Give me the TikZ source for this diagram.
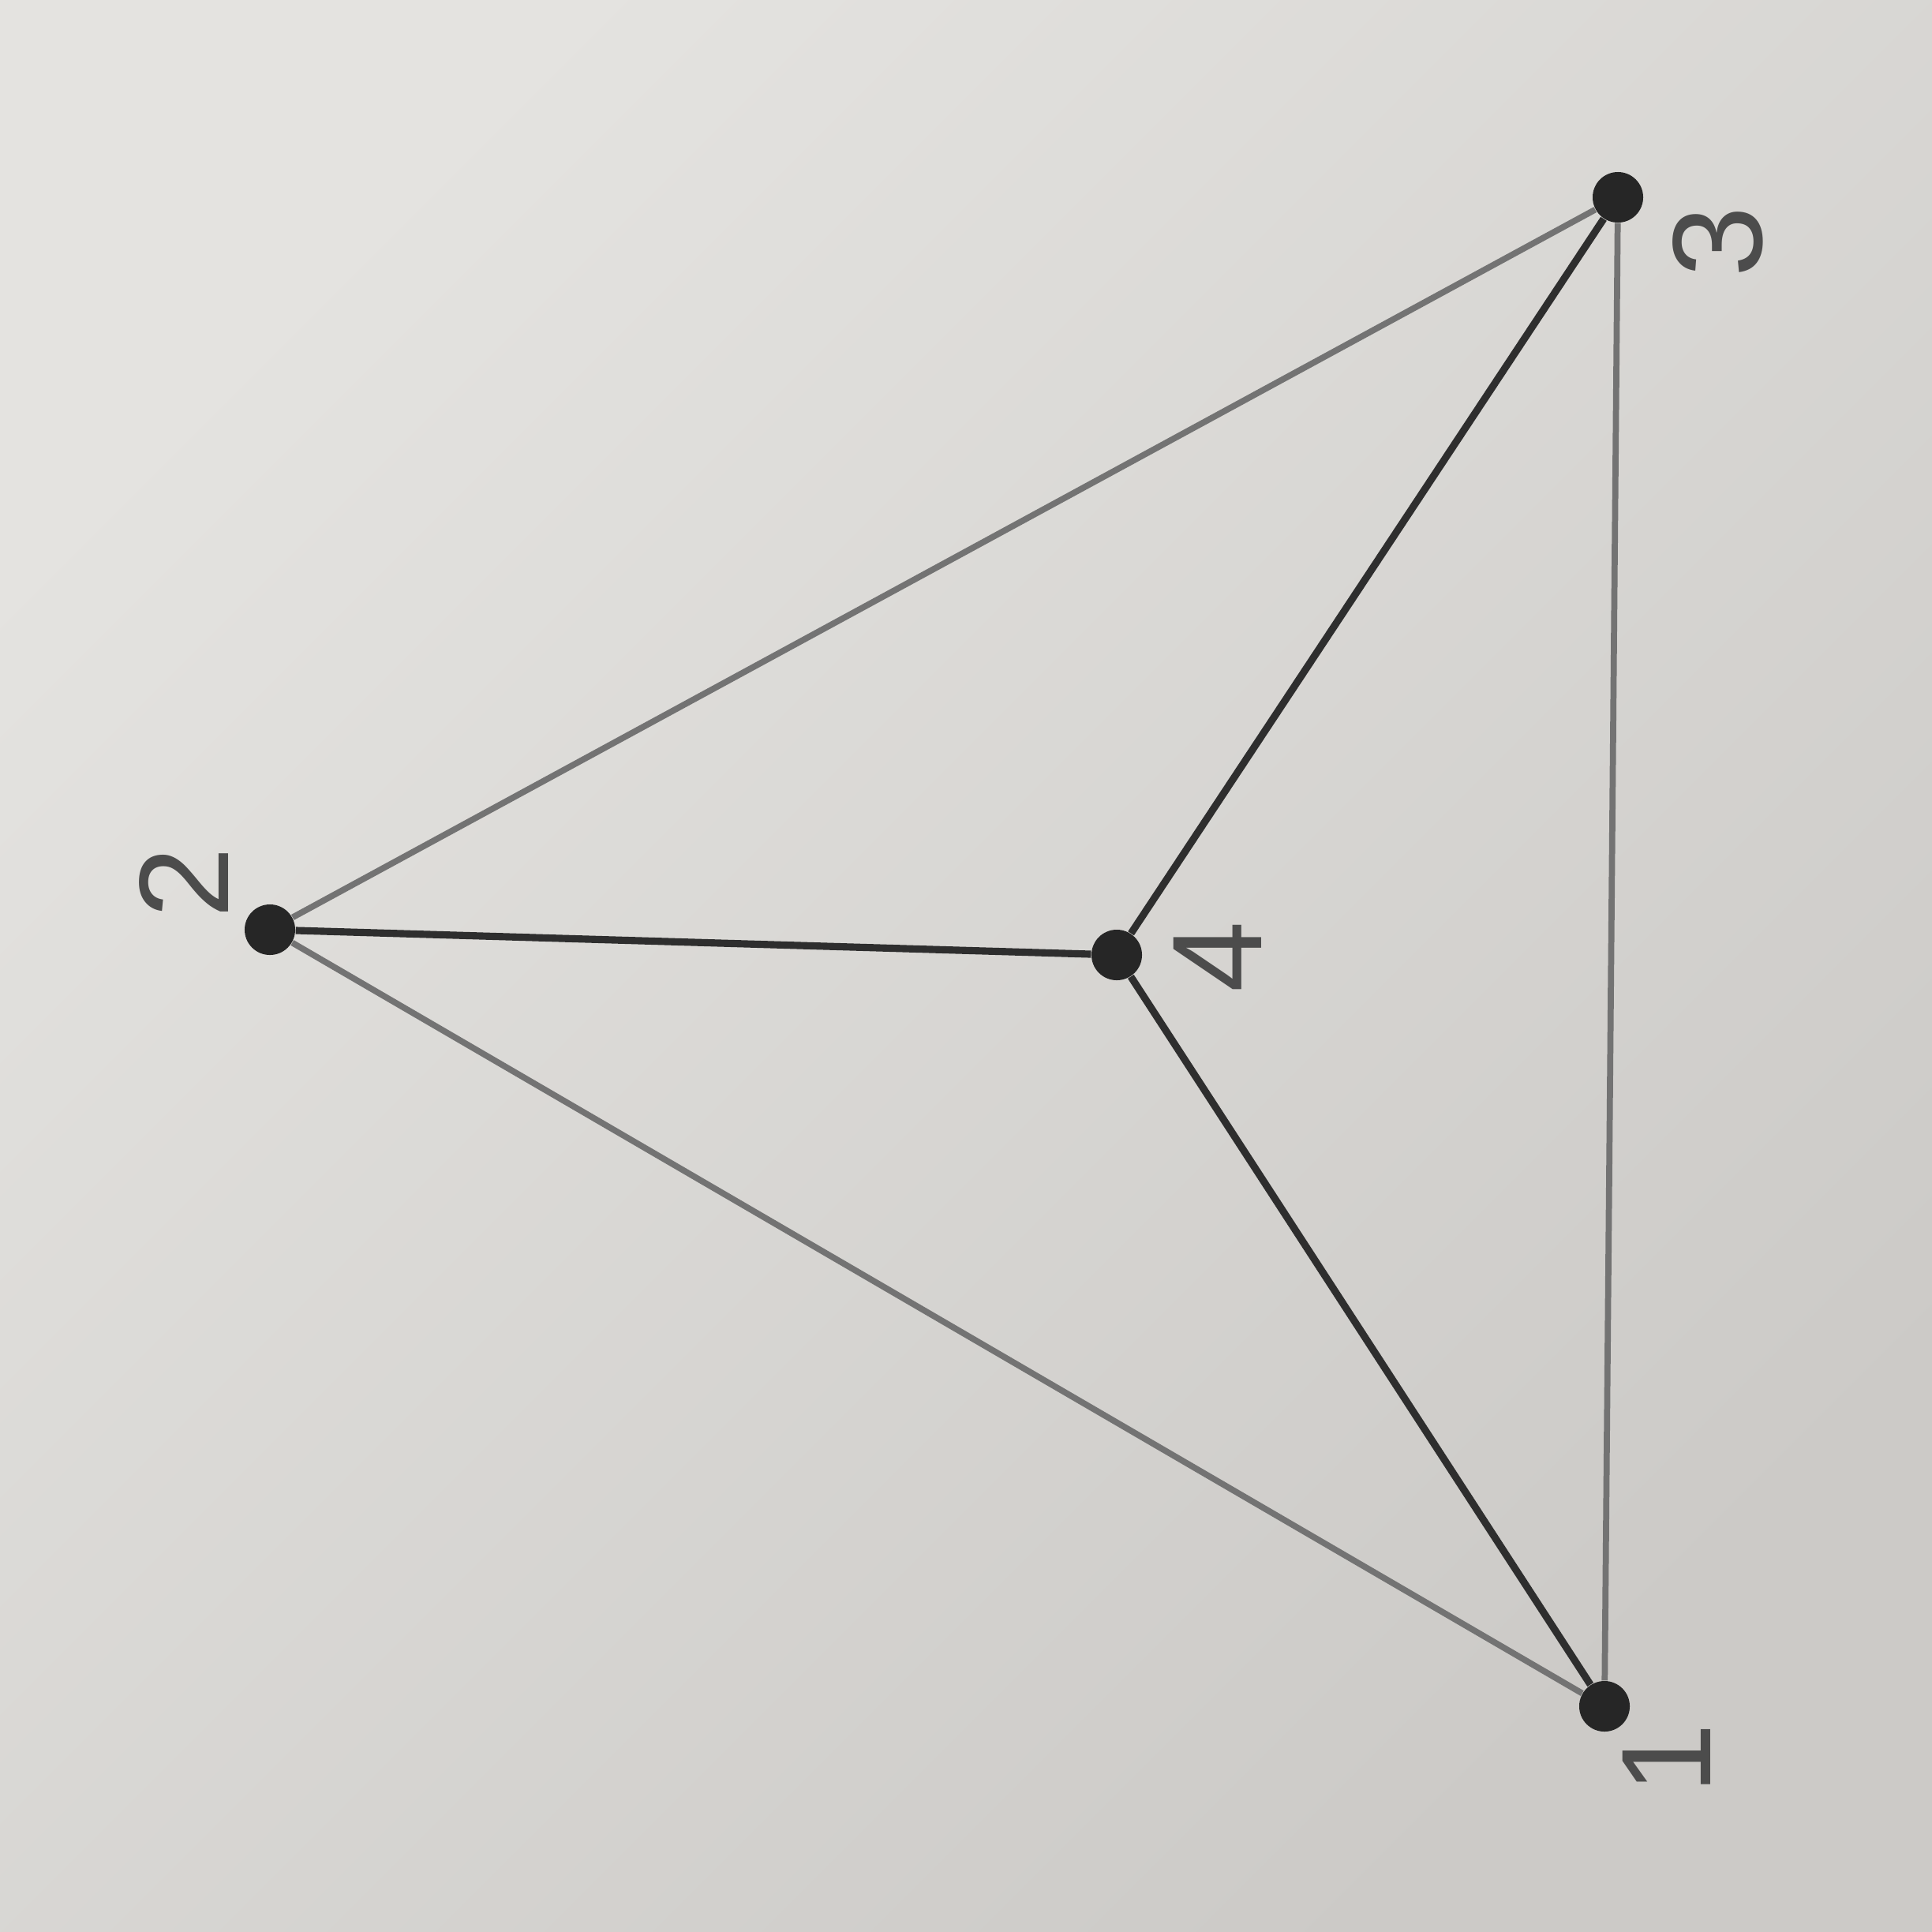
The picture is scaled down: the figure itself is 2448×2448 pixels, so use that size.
\documentclass[tikz,border=0pt]{standalone}
\usepackage{fontspec}
\setmainfont{Liberation Sans}
\definecolor{paperA}{RGB}{228,227,224}
\definecolor{paperB}{RGB}{204,202,199}
\begin{document}
\begin{tikzpicture}[x=0.01cm,y=-0.01cm,
  vtx/.style={circle,fill=black!85,inner sep=0pt,minimum size=0.64cm},
  lab/.style={rotate=90,text=black!70,font=\fontsize{46}{46}\selectfont,inner sep=0pt},
  inner/.style={draw=black!82,line width=2.6pt},
  outer/.style={draw=black!55,line width=2.2pt}]
\shade[top color=paperA,bottom color=paperB,shading angle=45] (0,0) rectangle (2448,2448);
\useasboundingbox (0,0) rectangle (2448,2448);
\node[vtx] (v3) at (2050,250) {};
\node[vtx] (v2) at (342,1178) {};
\node[vtx] (v4) at (1415,1210) {};
\node[vtx] (v1) at (2033,2162) {};
\draw[outer] (v2) -- (v3);
\draw[outer] (v2) -- (v1);
\draw[outer] (v3) -- (v1);
\draw[inner] (v2) -- (v4);
\draw[inner] (v4) -- (v3);
\draw[inner] (v4) -- (v1);
\node[lab] (l3) at (2177,307) {3};
\node[lab] (l2) at (233,1118) {2};
\node[lab] (l4) at (1543,1212) {4};
\node[lab] (l1) at (2112,2228) {1};
\end{tikzpicture}
\end{document}
